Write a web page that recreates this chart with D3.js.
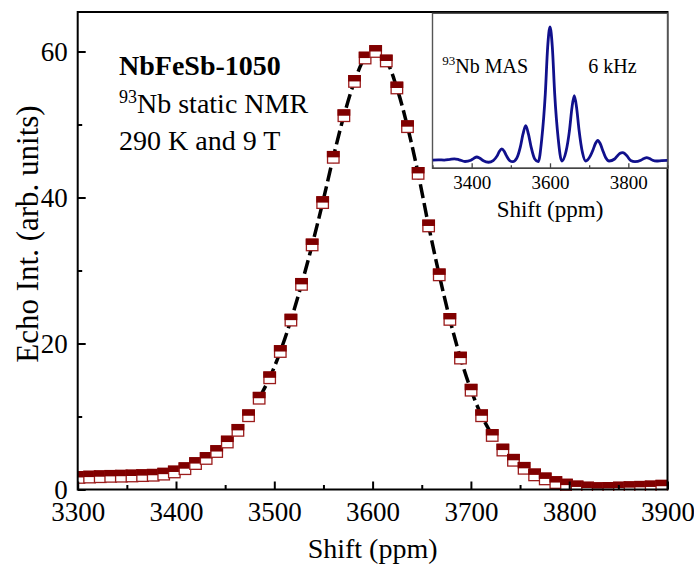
<!DOCTYPE html>
<html><head><meta charset="utf-8">
<script src="https://cdn.jsdelivr.net/npm/d3@7"></script>
<style>
body{margin:0;background:#fff}
svg{display:block}
text{font-family:"Liberation Serif","Times New Roman",serif;fill:#000}
</style>
</head><body>
<svg id="c" width="694" height="567"></svg>
<script>
// Main spectrum: shift (ppm) and echo intensity (arb. units)
const shift = [3301.3,3312.1,3322.9,3333.6,3344.4,3355.2,3366.0,3376.8,3387.5,3398.3,
  3409.1,3419.9,3430.7,3441.4,3452.2,3463.0,3473.8,3484.6,3495.3,3506.1,
  3516.9,3527.7,3538.5,3549.2,3560.0,3570.8,3581.6,3592.4,3603.1,3613.9,
  3624.7,3635.5,3646.3,3657.0,3667.8,3678.6,3689.4,3700.2,3710.9,3721.7,
  3732.5,3743.3,3754.1,3764.8,3775.6,3786.4,3797.2,3808.0,3818.7,3829.5,
  3840.3,3851.1,3861.9,3872.6,3883.4,3894.2];
const echo = [1.65,1.7,1.75,1.8,1.82,1.85,1.9,1.95,2.1,2.4,
  2.85,3.55,4.25,5.2,6.5,8.1,10.1,12.5,15.3,18.9,
  23.2,28.1,33.5,39.3,45.5,51.2,55.9,59.1,60.0,58.7,
  55.0,49.7,43.3,36.1,29.4,23.3,18.0,13.6,10.1,7.4,
  5.4,4.0,2.9,2.0,1.45,0.95,0.6,0.35,0.2,0.12,
  0.15,0.2,0.25,0.3,0.35,0.45];
// Fit curve (dashed) drawn over this index range of the points
const fitFrom = 17, fitTo = 39;

// Inset MAS spectrum
const insetShift = [3300,3315,3330,3345,3356,3368,3383,3398,3406,3413,3420,3430,3443,3455,3465,3471,3477,3483,3489,3497,
  3505,3515,3524,3531,3538,3545,3552,3561,3570,3579,3588,3594,3600,3606,3612,3621,3630,3641,3650,3656,
  3662,3668,3674,3683,3691,3703,3710,3716,3722,3728,3734,3742,3751,3765,3773,3779,3785,3791,3798,3806,
  3817,3832,3840,3847,3854,3862,3872,3885,3900];
const insetInt = [5.3,5.5,5.3,5.8,6.1,5.5,4.4,5.2,6.5,7.3,6.6,4.8,3.9,5.0,8.0,11.0,12.5,11.0,8.0,5.0,
  4.3,6.5,13.5,22.0,27.5,22.0,13.5,6.0,4.3,19.0,48.0,78.0,91.2,78.0,48.0,19.0,4.7,11.0,25.0,39.0,
  46.8,39.0,25.0,10.0,4.7,8.0,12.0,16.0,18.0,16.0,12.0,7.0,4.7,6.0,8.3,9.7,10.1,9.5,7.5,5.0,
  4.3,5.2,6.3,6.9,6.3,5.2,4.7,5.0,5.1];

const xMajor = [3300,3400,3500,3600,3700,3800,3900];
const xMinor = [3350,3450,3550,3650,3750,3850];
const yMajor = [0,20,40,60];
const yMinor = [10,30,50];
const insetMajor = [3400,3600,3800];
const insetMinor = [3300,3500,3700,3900];

const svg = d3.select("#c");
const L = 77.7, R = 667.5, T = 12, B = 489.5;
const x = d3.scaleLinear().domain([3300,3900]).range([L,R]);
const y = d3.scaleLinear().domain([0,60]).range([B,51.5]);

svg.append("defs").append("clipPath").attr("id","clipMain")
  .append("rect").attr("x",L).attr("y",T).attr("width",R-L).attr("height",B-T+1.5);

// Dashed fit line
const pts = shift.map((s,i)=>[s,echo[i]]).slice(fitFrom, fitTo+1);
const line = d3.line().x(d=>x(d[0])).y(d=>y(d[1])).curve(d3.curveCatmullRom);
const gData = svg.append("g").attr("clip-path","url(#clipMain)");
gData.append("path").attr("d", line(pts)).attr("fill","none")
  .attr("stroke","#000").attr("stroke-width",3.5).attr("stroke-dasharray","14,5");

// Half-filled square markers
const S = 11.5;
const mk = gData.selectAll("g.m").data(shift.map((s,i)=>[s,echo[i]])).join("g").attr("class","m")
  .attr("transform",d=>`translate(${x(d[0])},${y(d[1])})`);
mk.append("rect").attr("x",-S/2).attr("y",-S/2).attr("width",S).attr("height",S)
  .attr("fill","#fff").attr("stroke","#9b1c1c").attr("stroke-width",1.3);
mk.append("rect").attr("x",-S/2-0.65).attr("y",-S/2-0.65).attr("width",S+1.3).attr("height",S/2+0.65)
  .attr("fill","#800000");

// Axes
const fs = 27;
function styleAxis(g){ g.select(".domain").remove(); g.selectAll("line").attr("stroke","#000").attr("stroke-width",2); g.selectAll("text").attr("font-size",fs).attr("font-family","Liberation Serif"); }
svg.append("g").attr("transform",`translate(0,${B})`)
  .call(d3.axisBottom(x).tickValues(xMajor).tickSizeInner(-8).tickSizeOuter(0).tickPadding(12).tickFormat(d3.format("d")))
  .call(styleAxis);
svg.append("g").attr("transform",`translate(0,${B})`)
  .call(d3.axisBottom(x).tickValues(xMinor).tickSizeInner(-4.5).tickSizeOuter(0).tickFormat(""))
  .call(styleAxis);
svg.append("g").attr("transform",`translate(${L},0)`)
  .call(d3.axisLeft(y).tickValues(yMajor).tickSizeInner(-8).tickSizeOuter(0).tickPadding(10).tickFormat(d3.format("d")))
  .call(styleAxis);
svg.append("g").attr("transform",`translate(${L},0)`)
  .call(d3.axisLeft(y).tickValues(yMinor).tickSizeInner(-4.5).tickSizeOuter(0).tickFormat(""))
  .call(styleAxis);

svg.append("rect").attr("x",L).attr("y",T).attr("width",R-L).attr("height",B-T)
  .attr("fill","none").attr("stroke","#000").attr("stroke-width",2);

// Axis titles
svg.append("text").attr("x",(L+R)/2).attr("y",558).attr("text-anchor","middle")
  .attr("font-size",28).text("Shift (ppm)");
svg.append("text").attr("transform",`translate(38,234) rotate(-90)`).attr("text-anchor","middle")
  .attr("font-size",31).text("Echo Int. (arb. units)");

// Annotations
svg.append("text").attr("x",119).attr("y",75).attr("font-size",28).attr("font-weight","bold").text("NbFeSb-1050");
const t2 = svg.append("text").attr("x",119).attr("y",112.7).attr("font-size",28);
t2.append("tspan").attr("font-size",18).attr("dy",-10).text("93");
t2.append("tspan").attr("dy",10).text("Nb static NMR");
svg.append("text").attr("x",119).attr("y",150).attr("font-size",28).text("290 K and 9 T");

// Inset
const iL = 432.5, iR = 667.5, iT = 13.3, iB = 168.3;
const xi = d3.scaleLinear().domain([3300,3900]).range([iL,iR]);
const yi = d3.scaleLinear().domain([0,100]).range([iB,iT]);
svg.append("rect").attr("x",iL).attr("y",iT).attr("width",iR-iL).attr("height",iB-iT)
  .attr("fill","#fff").attr("stroke","#555").attr("stroke-width",1.4);
svg.select("defs").append("clipPath").attr("id","clipInset")
  .append("rect").attr("x",iL).attr("y",iT).attr("width",iR-iL).attr("height",iB-iT);
const iline = d3.line().x((d,i)=>xi(insetShift[i])).y(d=>yi(d)).curve(d3.curveMonotoneX);
svg.append("g").attr("clip-path","url(#clipInset)").append("path").attr("d", iline(insetInt))
  .attr("fill","none").attr("stroke","#10108c").attr("stroke-width",2.8).attr("stroke-linejoin","round");
function styleInset(g){ g.select(".domain").remove(); g.selectAll("line").attr("stroke","#444").attr("stroke-width",1.3); g.selectAll("text").attr("font-size",19).attr("font-family","Liberation Serif"); }
svg.append("g").attr("transform",`translate(0,${iB})`)
  .call(d3.axisBottom(xi).tickValues(insetMajor).tickSizeInner(-5).tickSizeOuter(0).tickPadding(7).tickFormat(d3.format("d")))
  .call(styleInset);
svg.append("g").attr("transform",`translate(0,${iB})`)
  .call(d3.axisBottom(xi).tickValues(insetMinor).tickSizeInner(-3).tickSizeOuter(0).tickFormat(""))
  .call(styleInset);
svg.append("line").attr("x1",iL).attr("x2",iR).attr("y1",iB).attr("y2",iB).attr("stroke","#444").attr("stroke-width",1.6);
svg.append("text").attr("x",(iL+iR)/2).attr("y",216.7).attr("text-anchor","middle").attr("font-size",23).text("Shift (ppm)");
const t3 = svg.append("text").attr("x",442.3).attr("y",73.3).attr("font-size",20);
t3.append("tspan").attr("font-size",13).attr("dy",-8).text("93");
t3.append("tspan").attr("dy",8).text("Nb MAS");
svg.append("text").attr("x",588.3).attr("y",73.3).attr("font-size",20).text("6 kHz");
</script>
</body></html>
